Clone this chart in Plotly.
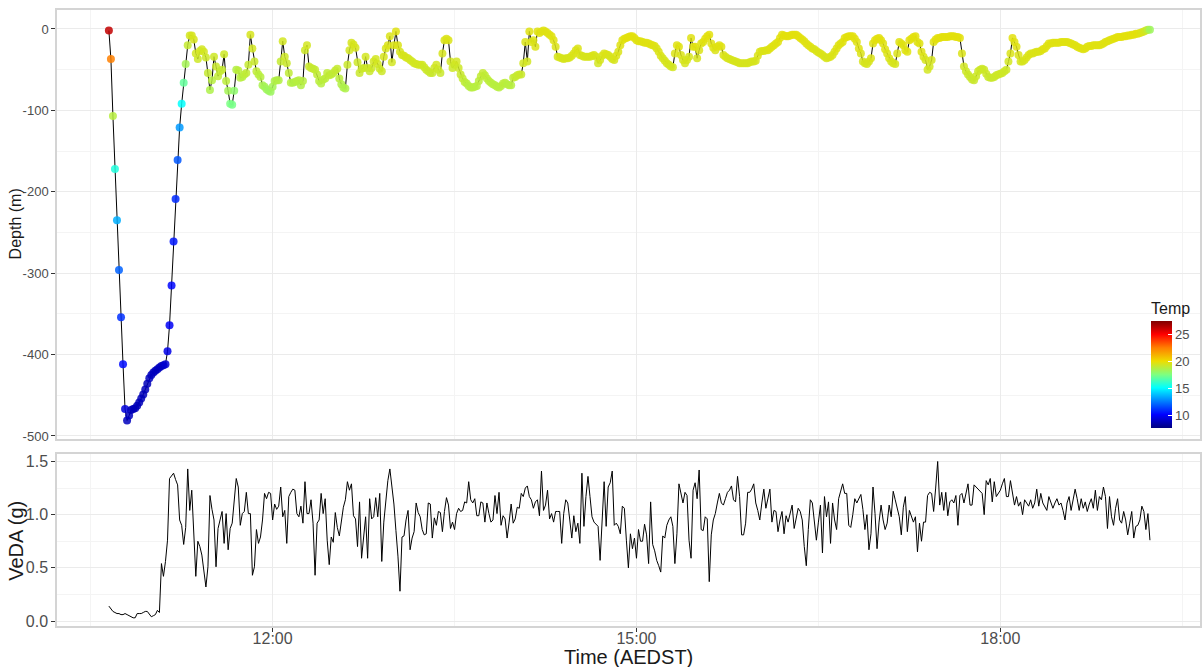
import pandas as pd
import plotly.graph_objects as go

# ---- dive record, one sample per minute from 10:39 (AEDST) ----
START_TIME = "2017-01-15 10:39:00"

DEPTH_M = [
    -2, -37, -107, -172, -235, -296, -354, -412, -467, -481,
    -475, -468, -467, -466, -463, -459, -454, -449, -443, -436,
    -429, -425, -422, -420, -418, -416, -414, -413, -412, -396,
    -364, -315, -261, -209, -161, -121, -92, -66, -43, -20,
    -8, -8, -13, -30, -37, -27, -25, -28, -35, -54,
    -75, -63, -34, -46, -58, -52, -50, -31, -64, -76,
    -92, -93, -76, -50, -51, -60, -59, -56, -54, -44,
    -7, -24, -40, -52, -56, -59, -69, -71, -74, -76,
    -77, -71, -64, -63, -63, -40, -15, -34, -42, -54,
    -66, -66, -65, -64, -63, -69, -64, -26, -20, -46,
    -48, -49, -50, -56, -64, -67, -62, -61, -54, -57,
    -56, -54, -51, -49, -61, -68, -72, -73, -44, -26,
    -17, -19, -23, -41, -54, -49, -48, -34, -48, -52,
    -48, -40, -37, -43, -49, -52, -34, -24, -20, -9,
    -41, -20, -3, -20, -28, -32, -33, -35, -36, -38,
    -40, -42, -43, -44, -44, -44, -47, -50, -52, -54,
    -54, -48, -44, -50, -54, -30, -14, -12, -14, -40,
    -48, -44, -40, -48, -56, -61, -65, -67, -70, -72,
    -72, -71, -70, -64, -58, -54, -57, -61, -64, -66,
    -68, -69, -71, -72, -70, -67, -66, -68, -69, -69,
    -60, -59, -57, -56, -56, -42, -16, -40, -3, -16,
    -14, -22, -3, -5, -3, -2, -3, -5, -7, -9,
    -14, -22, -34, -35, -36, -37, -36, -36, -35, -33,
    -30, -26, -24, -32, -33, -34, -34, -34, -34, -33,
    -32, -34, -42, -38, -33, -30, -31, -32, -34, -37,
    -38, -33, -28, -20, -14, -12, -11, -10, -9, -9,
    -11, -14, -15, -15, -16, -17, -17, -18, -19, -20,
    -21, -24, -28, -33, -36, -39, -42, -44, -46, -47,
    -30, -20, -22, -32, -38, -42, -38, -34, -11, -22,
    -22, -36, -26, -18, -16, -12, -9, -7, -18, -23,
    -26, -22, -20, -22, -32, -34, -36, -37, -38, -39,
    -40, -41, -42, -42, -42, -42, -42, -41, -40, -40,
    -39, -33, -28, -27, -27, -26, -26, -24, -22, -20,
    -18, -16, -11, -7, -8, -9, -9, -8, -7, -7,
    -7, -9, -11, -13, -15, -18, -20, -22, -24, -25,
    -27, -29, -30, -32, -34, -36, -35, -34, -32, -28,
    -24, -20, -18, -16, -11, -10, -9, -9, -9, -12,
    -16, -24, -30, -40, -42, -43, -40, -36, -18, -14,
    -12, -11, -14, -18, -25, -30, -36, -40, -42, -43,
    -30, -16, -18, -20, -26, -28, -14, -12, -10, -9,
    -16, -18, -28, -34, -38, -50, -46, -38, -16, -13,
    -11, -11, -10, -10, -10, -10, -9, -9, -9, -10,
    -10, -11, -30, -46, -52, -56, -59, -62, -63, -58,
    -52, -50, -49, -50, -55, -59, -60, -60, -59, -57,
    -56, -55, -54, -52, -50, -40, -30, -11, -16, -22,
    -32, -40, -40, -38, -35, -32, -30, -30, -29, -28,
    -28, -27, -25, -24, -21, -18, -18, -17, -17, -17,
    -17, -16, -16, -16, -16, -17, -18, -19, -20, -22,
    -23, -24, -25, -24, -22, -21, -21, -20, -20, -20,
    -20, -19, -18, -16, -15, -14, -13, -12, -11, -10,
    -10, -10, -9, -9, -8, -8, -7, -7, -6, -6,
    -5, -4, -3, -2, -1, -1,
]

TEMP_C = [
    26.3, 22.6, 18.9, 15.8, 13.6, 12.1, 11.1, 10.4, 9.5, 8.9,
    8.9, 8.8, 8.8, 8.8, 8.8, 8.8, 8.8, 8.8, 8.8, 8.8,
    8.9, 8.9, 8.9, 8.9, 8.9, 8.9, 9.0, 9.0, 9.3, 9.7,
    10.0, 10.3, 10.6, 11.0, 11.9, 13.2, 15.2, 17.1, 18.5, 19.2,
    19.5, 19.6, 19.6, 19.5, 19.4, 19.5, 19.5, 19.5, 19.4, 19.2,
    18.7, 18.9, 19.4, 19.3, 19.1, 19.2, 19.2, 19.4, 19.0, 18.5,
    17.6, 17.5, 18.0, 18.8, 19.0, 18.9, 18.9, 19.0, 19.1, 19.2,
    19.6, 19.5, 19.3, 19.1, 19.0, 18.9, 18.6, 18.5, 18.4, 18.3,
    18.3, 18.5, 18.7, 18.8, 18.8, 19.2, 19.5, 19.4, 19.3, 19.1,
    18.9, 18.8, 18.8, 18.9, 18.9, 18.8, 18.9, 19.4, 19.5, 19.3,
    19.3, 19.2, 19.2, 19.1, 19.0, 18.9, 19.0, 19.0, 19.1, 19.1,
    19.1, 19.1, 19.2, 19.2, 19.0, 18.8, 18.7, 18.7, 19.3, 19.5,
    19.6, 19.6, 19.6, 19.4, 19.3, 19.3, 19.4, 19.5, 19.4, 19.3,
    19.4, 19.5, 19.5, 19.5, 19.4, 19.4, 19.6, 19.6, 19.7, 19.7,
    19.5, 19.7, 19.8, 19.7, 19.6, 19.6, 19.6, 19.6, 19.6, 19.5,
    19.5, 19.5, 19.5, 19.5, 19.5, 19.5, 19.4, 19.4, 19.3, 19.3,
    19.3, 19.4, 19.5, 19.4, 19.3, 19.6, 19.7, 19.7, 19.7, 19.5,
    19.4, 19.4, 19.5, 19.4, 19.3, 19.2, 19.1, 19.0, 18.9, 18.9,
    18.9, 18.9, 18.9, 19.0, 19.1, 19.2, 19.1, 19.1, 19.0, 19.0,
    18.9, 18.9, 18.9, 18.9, 18.9, 19.0, 19.0, 18.9, 18.9, 18.9,
    19.1, 19.2, 19.2, 19.3, 19.3, 19.5, 19.7, 19.5, 19.8, 19.7,
    19.7, 19.7, 19.8, 19.8, 19.8, 19.8, 19.8, 19.8, 19.8, 19.8,
    19.8, 19.7, 19.6, 19.6, 19.6, 19.6, 19.6, 19.6, 19.6, 19.6,
    19.7, 19.7, 19.7, 19.7, 19.6, 19.6, 19.6, 19.6, 19.6, 19.6,
    19.7, 19.6, 19.5, 19.6, 19.6, 19.7, 19.7, 19.7, 19.6, 19.6,
    19.6, 19.7, 19.7, 19.8, 19.8, 19.8, 19.9, 19.9, 19.9, 19.9,
    19.9, 19.8, 19.8, 19.8, 19.8, 19.8, 19.8, 19.8, 19.8, 19.8,
    19.8, 19.7, 19.7, 19.7, 19.6, 19.6, 19.6, 19.6, 19.5, 19.5,
    19.7, 19.8, 19.8, 19.7, 19.6, 19.6, 19.6, 19.6, 19.8, 19.8,
    19.8, 19.6, 19.7, 19.8, 19.8, 19.9, 19.9, 19.9, 19.8, 19.8,
    19.7, 19.8, 19.8, 19.8, 19.7, 19.7, 19.6, 19.6, 19.6, 19.6,
    19.6, 19.6, 19.6, 19.6, 19.6, 19.6, 19.6, 19.6, 19.6, 19.6,
    19.6, 19.7, 19.7, 19.7, 19.7, 19.7, 19.7, 19.8, 19.8, 19.8,
    19.8, 19.8, 19.9, 19.9, 19.9, 19.9, 19.9, 19.9, 19.9, 19.9,
    19.9, 19.9, 19.9, 19.9, 19.8, 19.8, 19.8, 19.8, 19.8, 19.7,
    19.7, 19.7, 19.7, 19.7, 19.7, 19.6, 19.6, 19.7, 19.7, 19.7,
    19.8, 19.8, 19.8, 19.8, 19.9, 19.9, 19.9, 19.9, 19.9, 19.9,
    19.8, 19.8, 19.7, 19.6, 19.6, 19.6, 19.6, 19.7, 19.8, 19.9,
    19.9, 19.9, 19.9, 19.8, 19.8, 19.7, 19.7, 19.6, 19.6, 19.6,
    19.7, 19.8, 19.8, 19.8, 19.8, 19.8, 19.9, 19.9, 19.9, 19.9,
    19.8, 19.8, 19.8, 19.7, 19.6, 19.5, 19.5, 19.6, 19.8, 19.9,
    19.9, 19.9, 19.9, 19.9, 19.9, 19.9, 19.9, 19.9, 19.9, 19.9,
    19.9, 19.9, 19.7, 19.5, 19.4, 19.4, 19.3, 19.3, 19.3, 19.4,
    19.4, 19.4, 19.4, 19.4, 19.4, 19.3, 19.3, 19.3, 19.3, 19.4,
    19.4, 19.4, 19.4, 19.4, 19.4, 19.5, 19.7, 19.9, 19.8, 19.8,
    19.7, 19.6, 19.6, 19.6, 19.7, 19.7, 19.7, 19.7, 19.7, 19.7,
    19.7, 19.7, 19.8, 19.8, 19.8, 19.8, 19.8, 19.8, 19.8, 19.8,
    19.8, 19.8, 19.8, 19.8, 19.8, 19.8, 19.8, 19.8, 19.8, 19.8,
    19.8, 19.8, 19.8, 19.8, 19.8, 19.8, 19.8, 19.8, 19.8, 19.8,
    19.8, 19.8, 19.8, 19.8, 19.8, 19.8, 19.8, 19.8, 19.9, 19.9,
    19.9, 19.9, 19.9, 19.9, 19.9, 19.9, 19.9, 19.9, 19.9, 19.9,
    19.8, 19.7, 19.6, 19.4, 19.0, 18.3,
]

VEDA_G = [
    0.14, 0.11, 0.09, 0.08, 0.07, 0.07, 0.06, 0.06, 0.07, 0.06,
    0.05, 0.04, 0.03, 0.03, 0.07, 0.07, 0.07, 0.08, 0.09, 0.09,
    0.07, 0.04, 0.05, 0.06, 0.10, 0.08, 0.54, 0.42, 0.56, 0.76,
    1.34, 1.37, 1.39, 1.33, 1.28, 0.95, 0.90, 0.72, 0.88, 1.43,
    1.04, 1.23, 0.85, 0.42, 0.75, 0.70, 0.62, 0.45, 0.32, 0.51,
    1.18, 1.05, 0.95, 0.51, 0.87, 0.95, 1.03, 0.73, 1.01, 0.67,
    0.87, 0.92, 1.10, 1.34, 1.26, 0.90, 1.01, 1.03, 1.21, 1.01,
    1.01, 0.43, 0.51, 0.86, 0.73, 0.79, 0.95, 1.20, 1.15, 1.21,
    1.20, 0.95, 1.10, 1.05, 1.08, 1.26, 0.98, 1.04, 0.73, 1.17,
    1.21, 1.24, 1.23, 1.01, 0.98, 1.08, 0.92, 1.31, 1.01, 1.01,
    1.14, 0.92, 0.43, 0.92, 0.95, 1.20, 1.01, 1.15, 0.76, 0.53,
    0.79, 0.74, 1.02, 0.88, 0.80, 0.96, 1.07, 1.14, 1.31, 1.23,
    1.29, 0.99, 0.96, 0.70, 1.12, 0.59, 0.79, 0.98, 0.59, 1.15,
    0.96, 0.98, 1.16, 0.98, 1.20, 0.56, 0.93, 1.15, 1.32, 1.43,
    1.28, 1.10, 0.85, 0.61, 0.28, 0.79, 0.80, 0.95, 1.04, 0.67,
    0.78, 0.84, 1.11, 1.02, 0.98, 0.86, 0.81, 0.82, 1.11, 1.10,
    0.78, 0.97, 0.90, 1.03, 1.02, 0.84, 1.03, 1.16, 1.09, 0.87,
    0.93, 0.86, 1.01, 1.06, 1.03, 1.04, 1.12, 1.11, 1.31, 1.14,
    1.11, 1.15, 0.99, 0.99, 1.12, 1.11, 0.93, 1.11, 1.01, 0.93,
    0.95, 1.18, 1.01, 1.21, 0.90, 0.99, 0.96, 0.78, 0.93, 1.10,
    0.92, 0.96, 1.07, 1.06, 1.20, 1.17, 1.25, 1.27, 1.17, 1.14,
    1.06, 1.12, 1.14, 0.99, 1.41, 1.04, 1.09, 1.23, 0.96, 1.01,
    0.93, 1.03, 1.03, 1.03, 0.73, 1.01, 1.14, 1.11, 0.95, 0.78,
    0.99, 0.84, 0.92, 0.73, 1.39, 0.89, 1.17, 1.36, 1.17, 0.98,
    0.93, 0.91, 0.89, 0.57, 0.89, 1.31, 0.89, 1.26, 1.30, 1.41,
    0.90, 0.92, 0.89, 0.82, 1.08, 1.06, 0.76, 0.50, 0.82, 0.68,
    0.78, 0.59, 0.86, 0.75, 0.75, 0.91, 0.81, 0.54, 1.12, 0.72,
    0.66, 0.57, 0.52, 0.46, 0.80, 0.78, 0.90, 0.95, 0.98, 0.89,
    0.54, 0.82, 1.29, 1.18, 1.11, 1.21, 1.18, 0.76, 0.59, 1.23,
    1.30, 1.15, 1.42, 0.86, 0.85, 0.98, 0.96, 0.37, 0.81, 0.95,
    1.01, 1.11, 1.20, 1.11, 1.09, 1.15, 1.21, 1.23, 1.27, 1.14,
    1.12, 1.36, 1.17, 0.81, 0.81, 0.92, 1.21, 1.21, 1.24, 1.29,
    1.11, 1.04, 0.95, 1.11, 1.24, 1.06, 1.14, 1.24, 0.93, 1.04,
    1.03, 0.84, 0.95, 1.03, 0.82, 0.99, 0.93, 1.00, 1.09, 0.87,
    0.95, 1.06, 1.03, 0.95, 0.70, 0.52, 0.86, 1.14, 1.11, 0.90,
    0.76, 0.93, 1.09, 0.64, 1.17, 0.98, 1.12, 0.73, 1.11, 0.95,
    0.86, 1.15, 1.22, 1.29, 1.20, 1.20, 0.90, 0.88, 1.00, 1.15,
    1.11, 1.15, 1.19, 1.05, 0.86, 1.00, 0.67, 0.82, 1.26, 1.01,
    0.68, 0.93, 1.09, 0.95, 0.86, 0.92, 1.09, 0.98, 1.22, 1.14,
    1.05, 0.98, 0.81, 1.07, 1.17, 0.84, 1.04, 0.98, 0.93, 0.98,
    0.65, 0.92, 0.75, 0.93, 0.93, 1.18, 1.21, 1.20, 1.03, 1.25,
    1.50, 1.09, 1.21, 1.04, 1.21, 0.99, 1.12, 1.14, 1.11, 1.18,
    0.90, 1.18, 1.20, 1.11, 1.21, 1.29, 1.09, 1.09, 1.28, 1.26,
    1.25, 1.22, 1.20, 1.00, 1.32, 1.28, 1.34, 1.12, 1.31, 1.17,
    1.20, 1.23, 1.29, 1.34, 1.17, 1.17, 1.32, 1.18, 1.09, 1.17,
    1.08, 1.12, 1.00, 1.14, 1.11, 1.08, 1.14, 1.06, 1.11, 1.24,
    1.08, 1.20, 1.11, 1.08, 1.04, 1.17, 1.11, 1.06, 1.11, 1.15,
    1.09, 1.11, 1.04, 0.95, 1.11, 1.17, 1.04, 1.15, 1.24, 1.15,
    1.04, 1.15, 1.06, 1.12, 1.03, 1.10, 1.15, 1.06, 1.23, 1.04,
    1.17, 1.14, 1.26, 1.17, 0.87, 1.17, 0.98, 0.90, 1.06, 1.15,
    0.95, 0.92, 1.03, 0.95, 0.81, 0.92, 1.03, 0.78, 0.89, 0.90,
    0.95, 1.08, 1.03, 0.86, 1.01, 0.76,
]

# axis ticks
TIME_TICKS = ["2017-01-15 12:00", "2017-01-15 15:00", "2017-01-15 18:00"]
TIME_TICK_TEXT = ["12:00", "15:00", "18:00"]
TIME_MINOR = ["2017-01-15 10:30", "2017-01-15 13:30",
              "2017-01-15 16:30", "2017-01-15 19:30"]
TIME_RANGE = ["2017-01-15 10:13:20", "2017-01-15 19:38:46"]

DEPTH_TICKS = [-500, -400, -300, -200, -100, 0]
DEPTH_TICK_TEXT = ["-500", "-400", "-300", "-200", "-100", "0"]
DEPTH_MINOR = [-450, -350, -250, -150, -50]
DEPTH_RANGE = [-503.7, 23.3]

VEDA_TICKS = [0.0, 0.5, 1.0, 1.5]
VEDA_MINOR = [0.25, 0.75, 1.25]
VEDA_RANGE = [-0.047, 1.575]

TEMP_TICKS = [10, 15, 20, 25]
TEMP_RANGE = [7.7, 27.6]

n = len(DEPTH_M)
if not (len(TEMP_C) == n and len(VEDA_G) == n):
    raise ValueError(f"length mismatch: {n} {len(TEMP_C)} {len(VEDA_G)}")

times = pd.date_range(start=START_TIME, periods=n, freq="min")

# jet-style temperature palette (slightly muted yellow)
JET = [
    [0.000, "#00007F"], [0.125, "#0000FF"], [0.250, "#007FFF"],
    [0.375, "#00FFFF"], [0.500, "#7FFF7F"], [0.625, "#EEDD00"],
    [0.750, "#FF7F00"], [0.875, "#FF0000"], [1.000, "#7F0000"],
]

FONT = "Liberation Sans, Arial, Helvetica, sans-serif"
TICK_COL = "#4D4D4D"
GRID = "#EBEBEB"
GRID_MINOR = "#F4F4F4"
BORDER = "#D4D4D4"

fig = go.Figure()

# depth profile: thin black path, then temperature-coloured points
fig.add_trace(go.Scatter(
    x=times, y=DEPTH_M, mode="lines",
    line=dict(color="black", width=1),
    xaxis="x", yaxis="y", showlegend=False, hoverinfo="skip",
))
fig.add_trace(go.Scatter(
    x=times, y=DEPTH_M, mode="markers",
    marker=dict(
        size=8, color=TEMP_C, colorscale=JET,
        cmin=TEMP_RANGE[0], cmax=TEMP_RANGE[1], opacity=0.85,
        line=dict(width=0),
        colorbar=dict(
            title=dict(text="Temp", side="top",
                       font=dict(family=FONT, size=16, color="#1A1A1A")),
            x=0.9572, xanchor="left", xpad=0,
            y=0.4269, yanchor="middle", ypad=0,
            len=129, lenmode="pixels", thickness=21,
            outlinewidth=0,
            tickvals=TEMP_TICKS, ticks="inside", ticklen=4,
            tickcolor="white", tickwidth=1,
            tickprefix="\u2002",
            tickfont=dict(family=FONT, size=13, color=TICK_COL),
        ),
    ),
    xaxis="x", yaxis="y", showlegend=False, name="Depth",
))

# vertical dynamic acceleration
fig.add_trace(go.Scatter(
    x=times, y=VEDA_G, mode="lines",
    line=dict(color="black", width=1),
    xaxis="x2", yaxis="y2", showlegend=False, name="VeDA",
))

common_x = dict(
    range=TIME_RANGE, type="date",
    tickvals=TIME_TICKS, ticktext=TIME_TICK_TEXT,
    showgrid=True, gridcolor=GRID, gridwidth=1,
    minor=dict(tickvals=TIME_MINOR, showgrid=True,
               gridcolor=GRID_MINOR, gridwidth=1),
    showline=True, mirror=True, linecolor=BORDER, linewidth=1.5,
    zeroline=False,
)

fig.update_layout(
    width=1202, height=667,
    margin=dict(l=57, r=0, t=10, b=41),
    paper_bgcolor="white", plot_bgcolor="white",
    font=dict(family=FONT, color=TICK_COL),
    xaxis=dict(**common_x, anchor="y", showticklabels=False, ticks=""),
    xaxis2=dict(**common_x, anchor="y2", matches="x",
                ticks="outside", ticklen=4, tickcolor="#333333",
                ticklabelstandoff=-7,
                tickfont=dict(family=FONT, size=16, color=TICK_COL)),
    yaxis=dict(
        domain=[0.3036, 1.0], range=DEPTH_RANGE,
        tickvals=DEPTH_TICKS, ticktext=DEPTH_TICK_TEXT,
        minor=dict(tickvals=DEPTH_MINOR, showgrid=True,
                   gridcolor=GRID_MINOR, gridwidth=1),
        showgrid=True, gridcolor=GRID, gridwidth=1, zeroline=False,
        ticks="outside", ticklen=4, tickcolor="#333333",
        tickfont=dict(family=FONT, size=13, color=TICK_COL),
        showline=True, mirror=True, linecolor=BORDER, linewidth=1.5,
    ),
    yaxis2=dict(
        domain=[0.0, 0.2800], range=VEDA_RANGE,
        tickvals=VEDA_TICKS, tickformat=".1f",
        minor=dict(tickvals=VEDA_MINOR, showgrid=True,
                   gridcolor=GRID_MINOR, gridwidth=1),
        showgrid=True, gridcolor=GRID, gridwidth=1, zeroline=False,
        ticks="outside", ticklen=4, tickcolor="#333333",
        tickfont=dict(family=FONT, size=16, color=TICK_COL),
        showline=True, mirror=True, linecolor=BORDER, linewidth=1.5,
    ),
    annotations=[
        dict(text="Depth (m)", xref="paper", yref="paper",
             x=-0.0367, y=0.652, textangle=-90, showarrow=False,
             xanchor="center", yanchor="middle",
             font=dict(family=FONT, size=16, color="#1A1A1A")),
        dict(text="VeDA (g)", xref="paper", yref="paper",
             x=-0.0358, y=0.1385, textangle=-90, showarrow=False,
             xanchor="center", yanchor="middle",
             font=dict(family=FONT, size=20, color="#1A1A1A")),
        dict(text="Time (AEDST)", xref="paper", yref="paper",
             x=0.5, y=-0.0505, showarrow=False,
             xanchor="center", yanchor="middle",
             font=dict(family=FONT, size=20, color="#1A1A1A")),
    ],
    hovermode=False,
)

fig.write_html("out.html")
